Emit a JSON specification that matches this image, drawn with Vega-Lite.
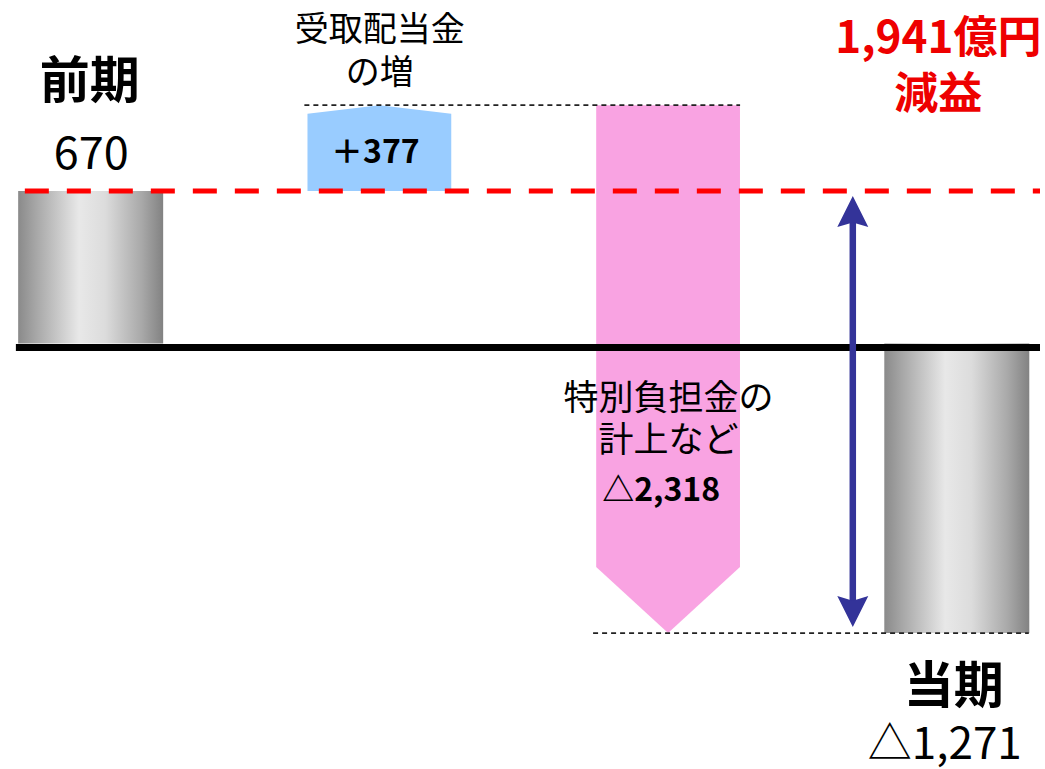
{
  "$schema": "https://vega.github.io/schema/vega-lite/v6.json",
  "width": 1045,
  "height": 769,
  "autosize": {"type": "none"},
  "padding": 0,
  "background": "white",
  "config": {"view": {"stroke": null}, "font": "Noto Sans CJK JP"},
  "datasets": {
    "steps": [
      {"item": "前期", "slot": 0, "start": 0, "end": 670, "name": "前期", "label": "670"},
      {"item": "受取配当金", "slot": 1, "start": 670, "end": 1047, "name": "受取配当金\nの増", "label": "＋377"},
      {"item": "特別負担金", "slot": 2, "start": 1047, "end": -1271, "name": "特別負担金の\n計上など", "label": "△2,318"},
      {"item": "当期", "slot": 3, "start": 0, "end": -1271, "name": "当期", "label": "△1,271"}
    ],
    "outline": [
      {"item": "受取配当金", "pos": 0.751, "edge": 1010, "base": 670},
      {"item": "受取配当金", "pos": 1.0, "edge": 1047, "base": 670},
      {"item": "受取配当金", "pos": 1.249, "edge": 1010, "base": 670},
      {"item": "特別負担金", "pos": 1.751, "edge": -981, "base": 1047},
      {"item": "特別負担金", "pos": 2.0, "edge": -1271, "base": 1047},
      {"item": "特別負担金", "pos": 2.249, "edge": -981, "base": 1047}
    ],
    "links": [
      {"level": 1047, "fromSlot": 1, "toSlot": 2},
      {"level": -1271, "fromSlot": 2, "toSlot": 3}
    ],
    "change": [
      {"from": 670, "to": -1271, "label": "1,941億円\n減益"}
    ]
  },
  "layer": [
    {
      "data": {"name": "steps"},
      "transform": [{"filter": "datum.item === '前期' || datum.item === '当期'"}],
      "mark": {
        "type": "bar",
        "width": 145,
        "color": {
          "gradient": "linear",
          "x1": 0, "x2": 1, "y1": 0, "y2": 0,
          "stops": [
            {"offset": 0, "color": "#8a8a8a"},
            {"offset": 0.12, "color": "#a6a6a6"},
            {"offset": 0.42, "color": "#e8e8e8"},
            {"offset": 0.6, "color": "#dcdcdc"},
            {"offset": 0.85, "color": "#a9a9a9"},
            {"offset": 1, "color": "#828282"}
          ]
        }
      },
      "encoding": {
        "x": {"field": "slot", "type": "quantitative", "scale": {"domain": [-0.2967, 3.2882], "nice": false, "zero": false}, "axis": null},
        "y": {"field": "start", "type": "quantitative", "scale": {"domain": [-1868, 1509], "nice": false, "zero": false}, "axis": null},
        "y2": {"field": "end"}
      }
    },
    {
      "data": {"name": "outline"},
      "transform": [{"filter": "datum.item === '受取配当金'"}],
      "mark": {"type": "area", "color": "#99ccff", "opacity": 1},
      "encoding": {
        "x": {"field": "pos", "type": "quantitative", "scale": {"domain": [-0.2967, 3.2882], "nice": false, "zero": false}, "axis": null},
        "y": {"field": "edge", "type": "quantitative", "scale": {"domain": [-1868, 1509], "nice": false, "zero": false}, "axis": null},
        "y2": {"field": "base"}
      }
    },
    {
      "data": {"name": "outline"},
      "transform": [{"filter": "datum.item === '特別負担金'"}],
      "mark": {"type": "area", "color": "#f9a3e2", "opacity": 1},
      "encoding": {
        "x": {"field": "pos", "type": "quantitative", "scale": {"domain": [-0.2967, 3.2882], "nice": false, "zero": false}, "axis": null},
        "y": {"field": "edge", "type": "quantitative", "scale": {"domain": [-1868, 1509], "nice": false, "zero": false}, "axis": null},
        "y2": {"field": "base"}
      }
    },
    {
      "data": {"name": "change"},
      "mark": {"type": "rule", "color": "#000000", "strokeWidth": 7, "yOffset": 4},
      "encoding": {
        "x": {"datum": -0.259, "type": "quantitative", "scale": {"domain": [-0.2967, 3.2882], "nice": false, "zero": false}, "axis": null},
        "x2": {"datum": 3.2882},
        "y": {"datum": 0, "type": "quantitative", "scale": {"domain": [-1868, 1509], "nice": false, "zero": false}, "axis": null}
      }
    },
    {
      "data": {"name": "links"},
      "mark": {"type": "rule", "color": "#222222", "strokeWidth": 1.8, "strokeDash": [5, 4], "xOffset": -75, "x2Offset": 72},
      "encoding": {
        "x": {"field": "fromSlot", "type": "quantitative", "scale": {"domain": [-0.2967, 3.2882], "nice": false, "zero": false}, "axis": null},
        "x2": {"field": "toSlot"},
        "y": {"field": "level", "type": "quantitative", "scale": {"domain": [-1868, 1509], "nice": false, "zero": false}, "axis": null}
      }
    },
    {
      "data": {"name": "change"},
      "mark": {"type": "rule", "color": "#ff0000", "strokeWidth": 5, "strokeDash": [24, 18]},
      "encoding": {
        "x": {"datum": -0.228, "type": "quantitative", "scale": {"domain": [-0.2967, 3.2882], "nice": false, "zero": false}, "axis": null},
        "x2": {"datum": 3.2882},
        "y": {"field": "from", "type": "quantitative", "scale": {"domain": [-1868, 1509], "nice": false, "zero": false}, "axis": null}
      }
    },
    {
      "data": {"name": "change"},
      "mark": {"type": "rule", "color": "#333399", "strokeWidth": 6.5, "yOffset": 25, "y2Offset": -25},
      "encoding": {
        "x": {"datum": 2.6398, "type": "quantitative", "scale": {"domain": [-0.2967, 3.2882], "nice": false, "zero": false}, "axis": null},
        "y": {"field": "from", "type": "quantitative", "scale": {"domain": [-1868, 1509], "nice": false, "zero": false}, "axis": null},
        "y2": {"field": "to"}
      }
    },
    {
      "data": {"name": "change"},
      "mark": {"type": "point", "shape": "M0,0L1,2L0,1.7L-1,2Z", "filled": true, "opacity": 1, "color": "#333399", "size": 961, "yOffset": 5},
      "encoding": {
        "x": {"datum": 2.6398, "type": "quantitative", "scale": {"domain": [-0.2967, 3.2882], "nice": false, "zero": false}, "axis": null},
        "y": {"field": "from", "type": "quantitative", "scale": {"domain": [-1868, 1509], "nice": false, "zero": false}, "axis": null}
      }
    },
    {
      "data": {"name": "change"},
      "mark": {"type": "point", "shape": "M0,0L1,-2L0,-1.7L-1,-2Z", "filled": true, "opacity": 1, "color": "#333399", "size": 961, "yOffset": -6},
      "encoding": {
        "x": {"datum": 2.6398, "type": "quantitative", "scale": {"domain": [-0.2967, 3.2882], "nice": false, "zero": false}, "axis": null},
        "y": {"field": "to", "type": "quantitative", "scale": {"domain": [-1868, 1509], "nice": false, "zero": false}, "axis": null}
      }
    },
    {
      "data": {"name": "change"},
      "mark": {"type": "text", "color": "#ee0000", "fontSize": 44, "fontWeight": "bold", "lineBreak": "\n", "lineHeight": 56, "align": "center", "baseline": "middle", "dx": 85.5, "dy": -151},
      "encoding": {
        "x": {"datum": 2.6398, "type": "quantitative", "scale": {"domain": [-0.2967, 3.2882], "nice": false, "zero": false}, "axis": null},
        "y": {"field": "from", "type": "quantitative", "scale": {"domain": [-1868, 1509], "nice": false, "zero": false}, "axis": null},
        "text": {"field": "label"}
      }
    },
    {
      "data": {"name": "steps"},
      "transform": [{"filter": "datum.item === '前期'"}],
      "mark": {"type": "text", "color": "#000000", "fontSize": 50, "fontWeight": "bold", "align": "center", "baseline": "middle", "dx": -1, "dy": -108},
      "encoding": {
        "x": {"field": "slot", "type": "quantitative", "scale": {"domain": [-0.2967, 3.2882], "nice": false, "zero": false}, "axis": null},
        "y": {"field": "end", "type": "quantitative", "scale": {"domain": [-1868, 1509], "nice": false, "zero": false}, "axis": null},
        "text": {"field": "name"}
      }
    },
    {
      "data": {"name": "steps"},
      "transform": [{"filter": "datum.item === '前期'"}],
      "mark": {"type": "text", "color": "#000000", "fontSize": 45, "align": "center", "baseline": "middle", "dx": 0.5, "dy": -36},
      "encoding": {
        "x": {"field": "slot", "type": "quantitative", "scale": {"domain": [-0.2967, 3.2882], "nice": false, "zero": false}, "axis": null},
        "y": {"field": "end", "type": "quantitative", "scale": {"domain": [-1868, 1509], "nice": false, "zero": false}, "axis": null},
        "text": {"field": "label"}
      }
    },
    {
      "data": {"name": "steps"},
      "transform": [{"filter": "datum.item === '受取配当金'"}],
      "mark": {"type": "text", "color": "#000000", "fontSize": 34, "lineBreak": "\n", "lineHeight": 43, "align": "center", "baseline": "middle", "dx": 0.5, "dy": -74},
      "encoding": {
        "x": {"field": "slot", "type": "quantitative", "scale": {"domain": [-0.2967, 3.2882], "nice": false, "zero": false}, "axis": null},
        "y": {"field": "end", "type": "quantitative", "scale": {"domain": [-1868, 1509], "nice": false, "zero": false}, "axis": null},
        "text": {"field": "name"}
      }
    },
    {
      "data": {"name": "steps"},
      "transform": [{"filter": "datum.item === '受取配当金'"}],
      "mark": {"type": "text", "color": "#000000", "fontSize": 32, "fontWeight": "bold", "align": "center", "baseline": "middle", "dx": -4, "dy": -38},
      "encoding": {
        "x": {"field": "slot", "type": "quantitative", "scale": {"domain": [-0.2967, 3.2882], "nice": false, "zero": false}, "axis": null},
        "y": {"field": "start", "type": "quantitative", "scale": {"domain": [-1868, 1509], "nice": false, "zero": false}, "axis": null},
        "text": {"field": "label"}
      }
    },
    {
      "data": {"name": "steps"},
      "transform": [{"filter": "datum.item === '特別負担金'"}],
      "mark": {"type": "text", "color": "#000000", "fontSize": 35, "lineBreak": "\n", "lineHeight": 42, "align": "center", "baseline": "middle", "dx": 0.5, "dy": -234},
      "encoding": {
        "x": {"field": "slot", "type": "quantitative", "scale": {"domain": [-0.2967, 3.2882], "nice": false, "zero": false}, "axis": null},
        "y": {"field": "end", "type": "quantitative", "scale": {"domain": [-1868, 1509], "nice": false, "zero": false}, "axis": null},
        "text": {"field": "name"}
      }
    },
    {
      "data": {"name": "steps"},
      "transform": [{"filter": "datum.item === '特別負担金'"}],
      "mark": {"type": "text", "color": "#000000", "fontSize": 32, "fontWeight": "bold", "align": "center", "baseline": "middle", "dx": -7, "dy": -142},
      "encoding": {
        "x": {"field": "slot", "type": "quantitative", "scale": {"domain": [-0.2967, 3.2882], "nice": false, "zero": false}, "axis": null},
        "y": {"field": "end", "type": "quantitative", "scale": {"domain": [-1868, 1509], "nice": false, "zero": false}, "axis": null},
        "text": {"field": "label"}
      }
    },
    {
      "data": {"name": "steps"},
      "transform": [{"filter": "datum.item === '当期'"}],
      "mark": {"type": "text", "color": "#000000", "fontSize": 50, "fontWeight": "bold", "align": "center", "baseline": "middle", "dx": -3, "dy": 55},
      "encoding": {
        "x": {"field": "slot", "type": "quantitative", "scale": {"domain": [-0.2967, 3.2882], "nice": false, "zero": false}, "axis": null},
        "y": {"field": "end", "type": "quantitative", "scale": {"domain": [-1868, 1509], "nice": false, "zero": false}, "axis": null},
        "text": {"field": "name"}
      }
    },
    {
      "data": {"name": "steps"},
      "transform": [{"filter": "datum.item === '当期'"}],
      "mark": {"type": "text", "color": "#000000", "fontSize": 44, "align": "center", "baseline": "middle", "dx": -12, "dy": 113},
      "encoding": {
        "x": {"field": "slot", "type": "quantitative", "scale": {"domain": [-0.2967, 3.2882], "nice": false, "zero": false}, "axis": null},
        "y": {"field": "end", "type": "quantitative", "scale": {"domain": [-1868, 1509], "nice": false, "zero": false}, "axis": null},
        "text": {"field": "label"}
      }
    }
  ]
}
